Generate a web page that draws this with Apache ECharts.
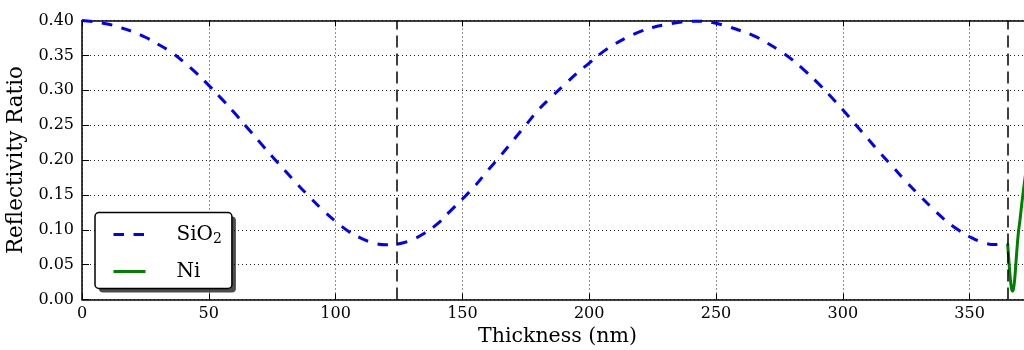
<!DOCTYPE html>
<html>
<head>
<meta charset="utf-8">
<script src="https://cdn.jsdelivr.net/npm/echarts@6/dist/echarts.min.js"></script>
<style>
html,body{margin:0;padding:0;background:#fff;}
#c{width:1024px;height:350px;}
</style>
</head>
<body>
<div id="c"></div>
<script>
// ---- data ----
const thickness = [0,5,10,15,20,25,30,35,40,45,50,55,60,65,70,75,80,85,90,95,100,105,110,115,120,
  125,130,135,140,145,150,155,160,165,170,175,180,185,190,195,200,205,210,215,220,225,230,235,240,
  245,250,255,260,265,270,275,280,285,290,295,300,305,310,315,320,325,330,335,340,345,350,355,360,365];
const sio2 = [0.400,0.398,0.395,0.390,0.384,0.376,0.366,0.355,0.341,0.325,0.307,0.288,0.268,0.247,0.226,0.205,0.185,0.165,0.146,0.128,0.112,0.098,0.088,0.081,0.0785,
  0.080,0.0855,0.095,0.108,0.126,0.144,0.163,0.185,0.206,0.228,0.250,0.272,0.290,0.307,0.324,0.339,0.354,0.366,0.376,0.384,0.390,0.394,0.397,0.399,
  0.399,0.396,0.391,0.385,0.378,0.368,0.357,0.344,0.328,0.311,0.292,0.272,0.251,0.230,0.209,0.189,0.169,0.150,0.132,0.115,0.101,0.090,0.082,0.0787,0.080];
const niThickness = [365.0,365.5,366.0,366.5,366.9,367.3,367.8,368.3,368.8,369.3,369.9,370.5,371.1,371.7,372.5,373.5];
const ni = [0.080,0.055,0.032,0.016,0.012,0.015,0.030,0.054,0.078,0.098,0.115,0.135,0.153,0.170,0.190,0.210];
const markerLines = [124, 365];
const xTickLabels = ['0','50','100','150','200','250','300','350'];
const yTickLabels = ['0.00','0.05','0.10','0.15','0.20','0.25','0.30','0.35','0.40'];
const seriesNames = ['SiO2', 'Ni'];

const FONT = "'DejaVu Serif', serif";
const chart = echarts.init(document.getElementById('c'), null, {renderer: 'canvas'});

const xFormatter = v => {
  const s = String(Math.round(v));
  return (Math.abs(v - Math.round(v)) < 1e-9 && xTickLabels.indexOf(s) >= 0) ? s : '';
};
const yFormatter = v => {
  const i = Math.round(v / 0.05);
  return (Math.abs(v - i * 0.05) < 1e-9 && yTickLabels[i] !== undefined) ? yTickLabels[i] : '';
};

function makeLegend(withShadow) {
  const base = {
    orient: 'vertical',
    left: 95, top: 212.5,
    padding: [12, 10, 7, 17],
    itemGap: 15,
    itemWidth: 32,
    itemHeight: 14,
    selectedMode: false,
    backgroundColor: '#fff',
    borderRadius: 4,
    itemStyle: {opacity: 0},
    lineStyle: {width: 3},
    data: seriesNames,
    formatter: name => name === 'SiO2' ? '{n|SiO}{s|2}' : '{n|' + name + '}',
    textStyle: {
      fontFamily: FONT, fontSize: 20, color: '#000',
      rich: {
        n: {fontFamily: FONT, fontSize: 20, color: '#000', lineHeight: 24, padding: [0, 0, 0, 26]},
        s: {fontFamily: FONT, fontSize: 14, color: '#000', lineHeight: 14, verticalAlign: 'bottom'}
      }
    }
  };
  if (withShadow) {
    return Object.assign(base, {
      z: 4, borderWidth: 0,
      shadowColor: 'rgba(0,0,0,0.7)', shadowBlur: 0, shadowOffsetX: 4, shadowOffsetY: 4
    });
  }
  return Object.assign(base, {z: 5, borderColor: '#000', borderWidth: 1.5});
}

const option = {
  animation: false,
  backgroundColor: '#fff',
  grid: {left: 82, top: 20.5, width: 951, height: 279, containLabel: false, outerBoundsMode: 'none'},
  legend: [makeLegend(true), makeLegend(false)],
  xAxis: [
    {
      type: 'value', min: 0, max: 375, interval: 50, position: 'bottom',
      name: 'Thickness (nm)', nameLocation: 'middle', nameGap: 26,
      nameTextStyle: {fontFamily: FONT, fontSize: 20.5, color: '#000'},
      axisLine: {show: true, onZero: false, lineStyle: {color: '#000', width: 1.5}},
      axisTick: {show: true, inside: true, length: 6, lineStyle: {color: '#000', width: 1}},
      axisLabel: {show: true, margin: 6, fontFamily: FONT, fontSize: 16, color: '#000', formatter: xFormatter, showMaxLabel: false},
      splitLine: {show: true, lineStyle: {color: '#222', width: 1, type: [1, 3]}}
    },
    {
      type: 'value', min: 0, max: 375, interval: 50, position: 'top',
      axisLine: {show: true, onZero: false, lineStyle: {color: '#000', width: 1.5}},
      axisTick: {show: true, inside: true, length: 6, lineStyle: {color: '#000', width: 1}},
      axisLabel: {show: false},
      splitLine: {show: false}
    }
  ],
  yAxis: {
    type: 'value', min: 0, max: 0.4, interval: 0.05,
    name: 'Reflectivity Ratio', nameLocation: 'middle', nameGap: 47, nameRotate: 90,
    nameTextStyle: {fontFamily: FONT, fontSize: 21.5, color: '#000'},
    axisLine: {show: true, onZero: false, lineStyle: {color: '#000', width: 1.5}},
    axisTick: {show: true, inside: true, length: 7, lineStyle: {color: '#000', width: 1}},
    axisLabel: {show: true, margin: 8, fontFamily: FONT, fontSize: 16, color: '#000', formatter: yFormatter},
    splitLine: {show: true, lineStyle: {color: '#222', width: 1, type: [1, 3]}}
  },
  series: [
    {
      name: seriesNames[0], type: 'line', xAxisIndex: 0,
      data: thickness.map((t, i) => [t, sio2[i]]),
      symbol: 'none', showSymbol: false, smooth: 0.4,
      lineStyle: {color: '#0000ff', width: 3, type: [10.5, 9.5], cap: 'butt'},
      itemStyle: {color: '#0000ff'},
      z: 3,
      markLine: {
        silent: true, symbol: ['none', 'none'],
        label: {show: false},
        lineStyle: {color: '#000', width: 1.5, type: [12, 6]},
        emphasis: {disabled: true},
        data: markerLines.map(m => ({xAxis: m}))
      }
    },
    {
      name: seriesNames[1], type: 'line', xAxisIndex: 0,
      data: niThickness.map((t, i) => [t, ni[i]]),
      symbol: 'none', showSymbol: false, smooth: 0.3,
      lineStyle: {color: '#008000', width: 3},
      itemStyle: {color: '#008000'},
      z: 4
    }
  ]
};
chart.setOption(option);
</script>
</body>
</html>
